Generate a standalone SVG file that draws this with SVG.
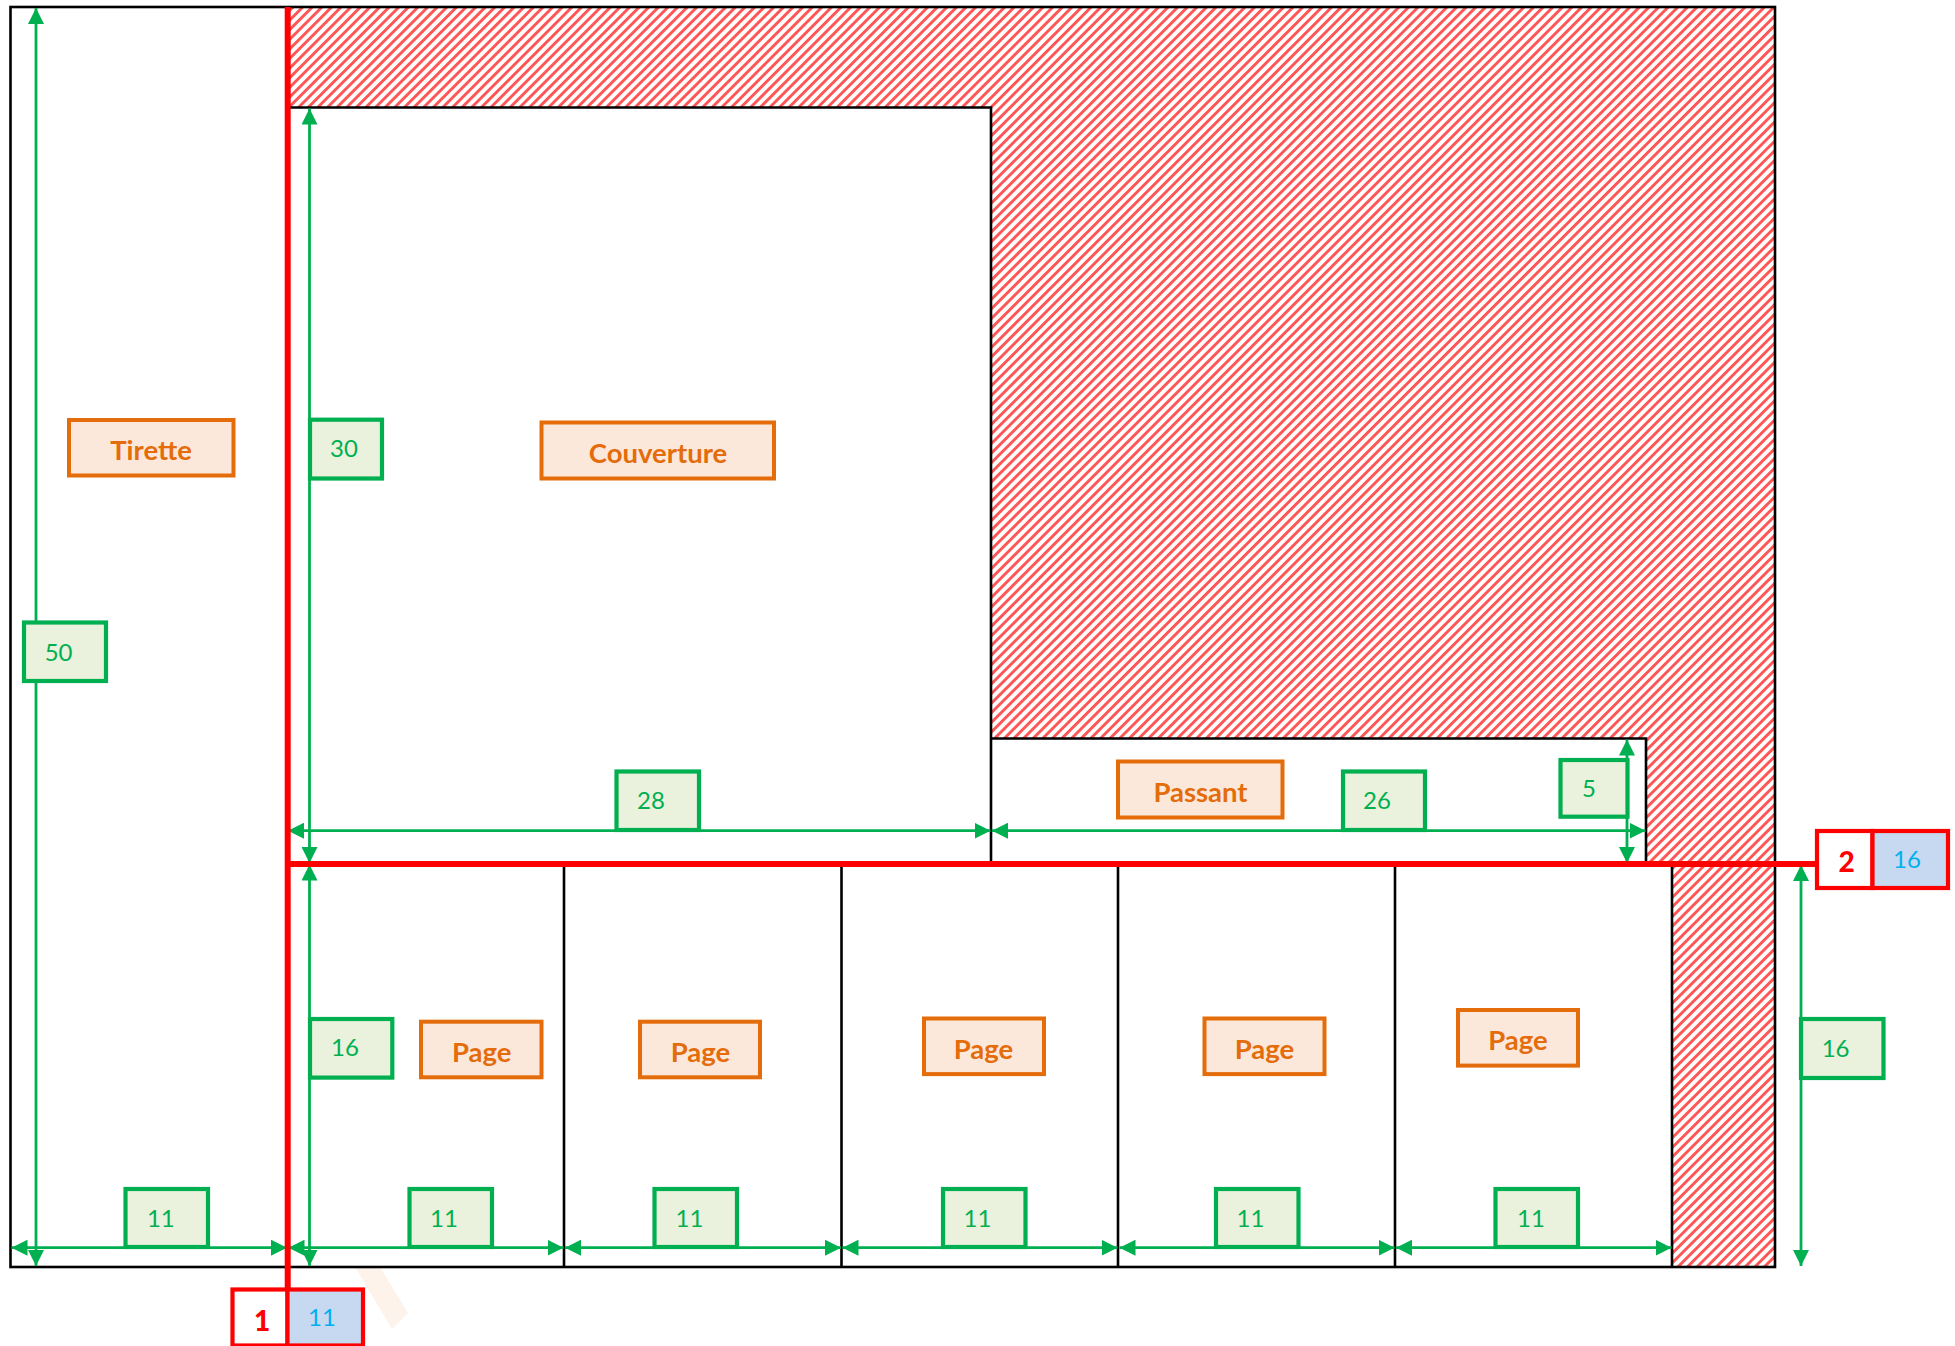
<svg xmlns="http://www.w3.org/2000/svg" width="1955" height="1346" viewBox="0 0 1955 1346">
<style>
text{font-family:"Lato","Carlito","Liberation Sans",sans-serif;text-anchor:middle}
.dim rect{fill:#EAF1DD;stroke:#00B050;stroke-width:4.2}
.dim text{fill:#00B050;font-size:24px}
.lab rect{fill:#FCE8DA;stroke:#E46C0A;stroke-width:4}
.lab text{fill:#E46C0A;font-size:27.5px;font-weight:700}
.cut rect{stroke:#FF0000;stroke-width:4.2}
.cut .n{fill:#FFFFFF}
.cut .v{fill:#C6D9F1}
.cut .t1{fill:#FF0000;font-size:28px;font-weight:900}
.cut .t2{fill:#00B0F0;font-size:24px}
.blk{fill:none;stroke:#000;stroke-width:2.6}
.red{fill:none;stroke:#FF0000;stroke-width:6}
#connectors line{stroke:#00B050;stroke-width:2.8;marker-start:url(#a);marker-end:url(#a)}
</style>
<defs>
<marker id="a" markerUnits="userSpaceOnUse" viewBox="0 0 16 16" markerWidth="16" markerHeight="16" refX="16" refY="8" orient="auto-start-reverse"><path d="M0 0L16 8L0 16z" fill="#00B050"/></marker>
<pattern id="h" width="6.8" height="6.8" patternUnits="userSpaceOnUse" patternTransform="rotate(45)"><rect width="6.8" height="6.8" fill="#fff"/><rect width="2.9" height="6.8" fill="#FF5555"/></pattern>
</defs>
<rect width="1955" height="1346" fill="#fff"/>
<polygon points="355,1267 380,1267 408,1313 392,1329" fill="#FEF3EA"/>
<g id="sheet">
<polygon points="287,7 1775,7 1775,1267 1672,1267 1672,864 1646,864 1646,738.5 991,738.5 991,107.5 287,107.5" fill="url(#h)"/>
<rect class="blk" x="10.5" y="7" width="1764.5" height="1260"/>
<path class="blk" d="M287 107.5H991V864M991 738.5H1646V864M1672 864V1267M564 864V1267M841.5 864V1267M1118 864V1267M1395 864V1267"/>
</g>
<g id="connectors">
<line x1="36" y1="8" x2="36" y2="1266"/>
<line x1="309.5" y1="108.5" x2="309.5" y2="863"/>
<line x1="309.5" y1="864.5" x2="309.5" y2="1266"/>
<line x1="1801" y1="865" x2="1801" y2="1266"/>
<line x1="1627" y1="739.5" x2="1627" y2="863"/>
<line x1="288" y1="830.7" x2="990.5" y2="830.7"/>
<line x1="992" y1="830.7" x2="1645.5" y2="830.7"/>
<line x1="11.5" y1="1247.7" x2="287" y2="1247.7"/>
<line x1="288.5" y1="1247.7" x2="563.5" y2="1247.7"/>
<line x1="565" y1="1247.7" x2="841" y2="1247.7"/>
<line x1="842.5" y1="1247.7" x2="1117.5" y2="1247.7"/>
<line x1="1119.5" y1="1247.7" x2="1394.5" y2="1247.7"/>
<line x1="1396" y1="1247.7" x2="1671.5" y2="1247.7"/>
</g>
<g id="fold-lines">
<path class="red" d="M287.7 7V1289M287.7 864H1817"/>
</g>
<g id="label-tirette" class="lab"><rect x="69" y="420" width="164.5" height="55.5"/><text x="151" y="459.5">Tirette</text></g>
<g id="label-couverture" class="lab"><rect x="541.5" y="422.5" width="232.5" height="56"/><text x="658" y="462.5">Couverture</text></g>
<g id="label-passant" class="lab"><rect x="1118" y="761.5" width="164.5" height="56"/><text x="1200.5" y="801.5">Passant</text></g>
<g id="label-page-1" class="lab"><rect x="421" y="1021.7" width="120.5" height="55.6"/><text x="481.7" y="1061.5">Page</text></g>
<g id="label-page-2" class="lab"><rect x="640" y="1021.7" width="120" height="55.6"/><text x="700.5" y="1061.5">Page</text></g>
<g id="label-page-3" class="lab"><rect x="924" y="1018.5" width="120" height="55.6"/><text x="983.5" y="1058.5">Page</text></g>
<g id="label-page-4" class="lab"><rect x="1204.5" y="1018.5" width="120" height="55.6"/><text x="1264.5" y="1058.5">Page</text></g>
<g id="label-page-5" class="lab"><rect x="1458" y="1010" width="120" height="55.6"/><text x="1518" y="1049.5">Page</text></g>
<g id="dim-50" class="dim"><rect x="24" y="622.5" width="82" height="58.5"/><text x="58.6" y="660.5">50</text></g>
<g id="dim-30" class="dim"><rect x="310" y="419.7" width="72" height="58.8"/><text x="344" y="457">30</text></g>
<g id="dim-28" class="dim"><rect x="616.5" y="771.5" width="82.5" height="58.5"/><text x="651" y="809">28</text></g>
<g id="dim-26" class="dim"><rect x="1343" y="771.5" width="82" height="58.5"/><text x="1377" y="809">26</text></g>
<g id="dim-5" class="dim"><rect x="1560.5" y="760" width="67" height="56.7"/><text x="1589" y="796.5">5</text></g>
<g id="dim-16-a" class="dim"><rect x="310" y="1019" width="82.3" height="58.6"/><text x="345" y="1055.5">16</text></g>
<g id="dim-16-b" class="dim"><rect x="1801" y="1019" width="82.5" height="59"/><text x="1835.6" y="1056.5">16</text></g>
<g id="dim-11-a" class="dim"><rect x="125.5" y="1189" width="82.5" height="58"/><text x="160.8" y="1227">11</text></g>
<g id="dim-11-b" class="dim"><rect x="409.5" y="1189" width="82.5" height="58"/><text x="444" y="1227">11</text></g>
<g id="dim-11-c" class="dim"><rect x="654.5" y="1189" width="82.5" height="58"/><text x="689.5" y="1227">11</text></g>
<g id="dim-11-d" class="dim"><rect x="943" y="1189" width="82.5" height="58"/><text x="977.5" y="1227">11</text></g>
<g id="dim-11-e" class="dim"><rect x="1216" y="1189" width="82.5" height="58"/><text x="1250.5" y="1227">11</text></g>
<g id="dim-11-f" class="dim"><rect x="1495.5" y="1189" width="82.5" height="58"/><text x="1531" y="1227">11</text></g>
<g id="cut-1" class="cut"><rect class="n" x="232.5" y="1289.5" width="55" height="56"/><rect class="v" x="287.5" y="1289.5" width="75.5" height="56"/><text class="t1" x="262" y="1331">1</text><text class="t2" x="322" y="1326">11</text></g>
<g id="cut-2" class="cut"><rect class="n" x="1817" y="831" width="55.5" height="57"/><rect class="v" x="1872.5" y="831" width="75.5" height="57"/><text class="t1" x="1846.7" y="872">2</text><text class="t2" x="1907" y="868">16</text></g>
</svg>
